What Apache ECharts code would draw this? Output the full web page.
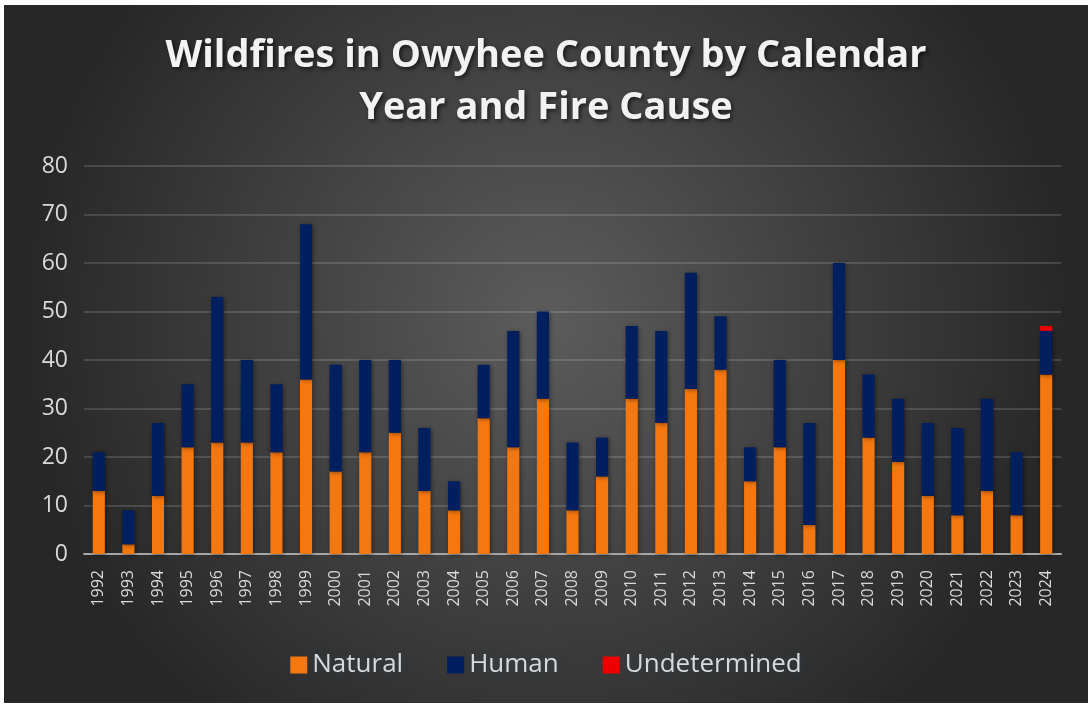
<!DOCTYPE html>
<html>
<head>
<meta charset="utf-8">
<script src="https://cdn.jsdelivr.net/npm/echarts@6/dist/echarts.min.js"></script>
<style>
  html, body { margin: 0; padding: 0; background: #ffffff; }
  #chart { position: absolute; left: 4px; top: 5px; width: 1084px; height: 698px; }
</style>
</head>
<body>
<div id="chart"></div>
<script>
// 年份
const years = ['1992','1993','1994','1995','1996','1997','1998','1999','2000','2001','2002',
  '2003','2004','2005','2006','2007','2008','2009','2010','2011','2012','2013','2014','2015',
  '2016','2017','2018','2019','2020','2021','2022','2023','2024'];
// 自然原因
const natural = [13, 2, 12, 22, 23, 23, 21, 36, 17, 21, 25, 13, 9, 28, 22, 32, 9, 16, 32, 27,
  34, 38, 15, 22, 6, 40, 24, 19, 12, 8, 13, 8, 37];
// 人为原因
const human = [8, 7, 15, 13, 30, 17, 14, 32, 22, 19, 15, 13, 6, 11, 24, 18, 14, 8, 15, 19,
  24, 11, 7, 18, 21, 20, 13, 13, 15, 18, 19, 13, 9];
// 未确定
const undetermined = [0, 0, 0, 0, 0, 0, 0, 0, 0, 0, 0, 0, 0, 0, 0, 0, 0, 0, 0, 0,
  0, 0, 0, 0, 0, 0, 0, 0, 0, 0, 0, 0, 1];
const yTicks = [0, 10, 20, 30, 40, 50, 60, 70, 80];

const chart = echarts.init(document.getElementById('chart'));

const barShadow = {
  shadowBlur: 4,
  shadowColor: 'rgba(0,0,0,0.45)',
  shadowOffsetX: 1,
  shadowOffsetY: 1
};

const option = {
  backgroundColor: {
    type: 'radial', x: 0.5, y: 0.45, r: 0.75,
    colorStops: [
      { offset: 0, color: '#5c5c5c' },
      { offset: 1, color: '#272727' }
    ]
  },
  animation: false,
  title: {
    text: 'Wildfires in Owyhee County by Calendar\nYear and Fire Cause',
    left: 'center',
    top: 20,
    textStyle: {
      color: '#f2f2f2',
      fontFamily: 'Open Sans',
      fontWeight: 'bold',
      fontSize: 38,
      lineHeight: 52,
      textShadowColor: 'rgba(0,0,0,0.6)',
      textShadowBlur: 4,
      textShadowOffsetX: 2,
      textShadowOffsetY: 2
    }
  },
  legend: {
    bottom: 20,
    left: 'center',
    itemWidth: 17,
    itemHeight: 17,
    itemGap: 44,
    icon: 'rect',
    textStyle: {
      color: '#d9d9d9',
      fontFamily: 'Open Sans',
      fontSize: 26,
      textShadowColor: 'rgba(40,70,90,0.8)',
      textShadowBlur: 6
    },
    data: ['Natural', 'Human', 'Undetermined']
  },
  grid: {
    left: 80,
    right: 27,
    top: 161,
    bottom: 149
  },
  xAxis: {
    type: 'category',
    data: years,
    axisTick: { show: false },
    axisLine: { lineStyle: { color: '#a6a6a6', width: 2 } },
    axisLabel: {
      color: '#d9d9d9',
      fontFamily: 'Open Sans',
      fontSize: 16,
      rotate: 90,
      interval: 0,
      margin: 16
    }
  },
  yAxis: {
    type: 'value',
    min: yTicks[0],
    max: yTicks[yTicks.length - 1],
    interval: 10,
    axisLine: { show: false },
    axisTick: { show: false },
    splitLine: { lineStyle: { color: 'rgba(255,255,255,0.14)', width: 2 } },
    axisLabel: {
      color: '#d9d9d9',
      fontFamily: 'Open Sans',
      fontSize: 23,
      margin: 16
    }
  },
  series: [
    {
      name: 'Natural',
      type: 'bar',
      stack: 'total',
      barWidth: '41%',
      itemStyle: Object.assign({ color: '#f4770f' }, barShadow),
      data: natural
    },
    {
      name: 'Human',
      type: 'bar',
      stack: 'total',
      itemStyle: Object.assign({ color: '#001f5e' }, barShadow),
      data: human
    },
    {
      name: 'Undetermined',
      type: 'bar',
      stack: 'total',
      itemStyle: { color: '#ee0000' },
      data: undetermined
    }
  ]
};

chart.setOption(option);
</script>
</body>
</html>
